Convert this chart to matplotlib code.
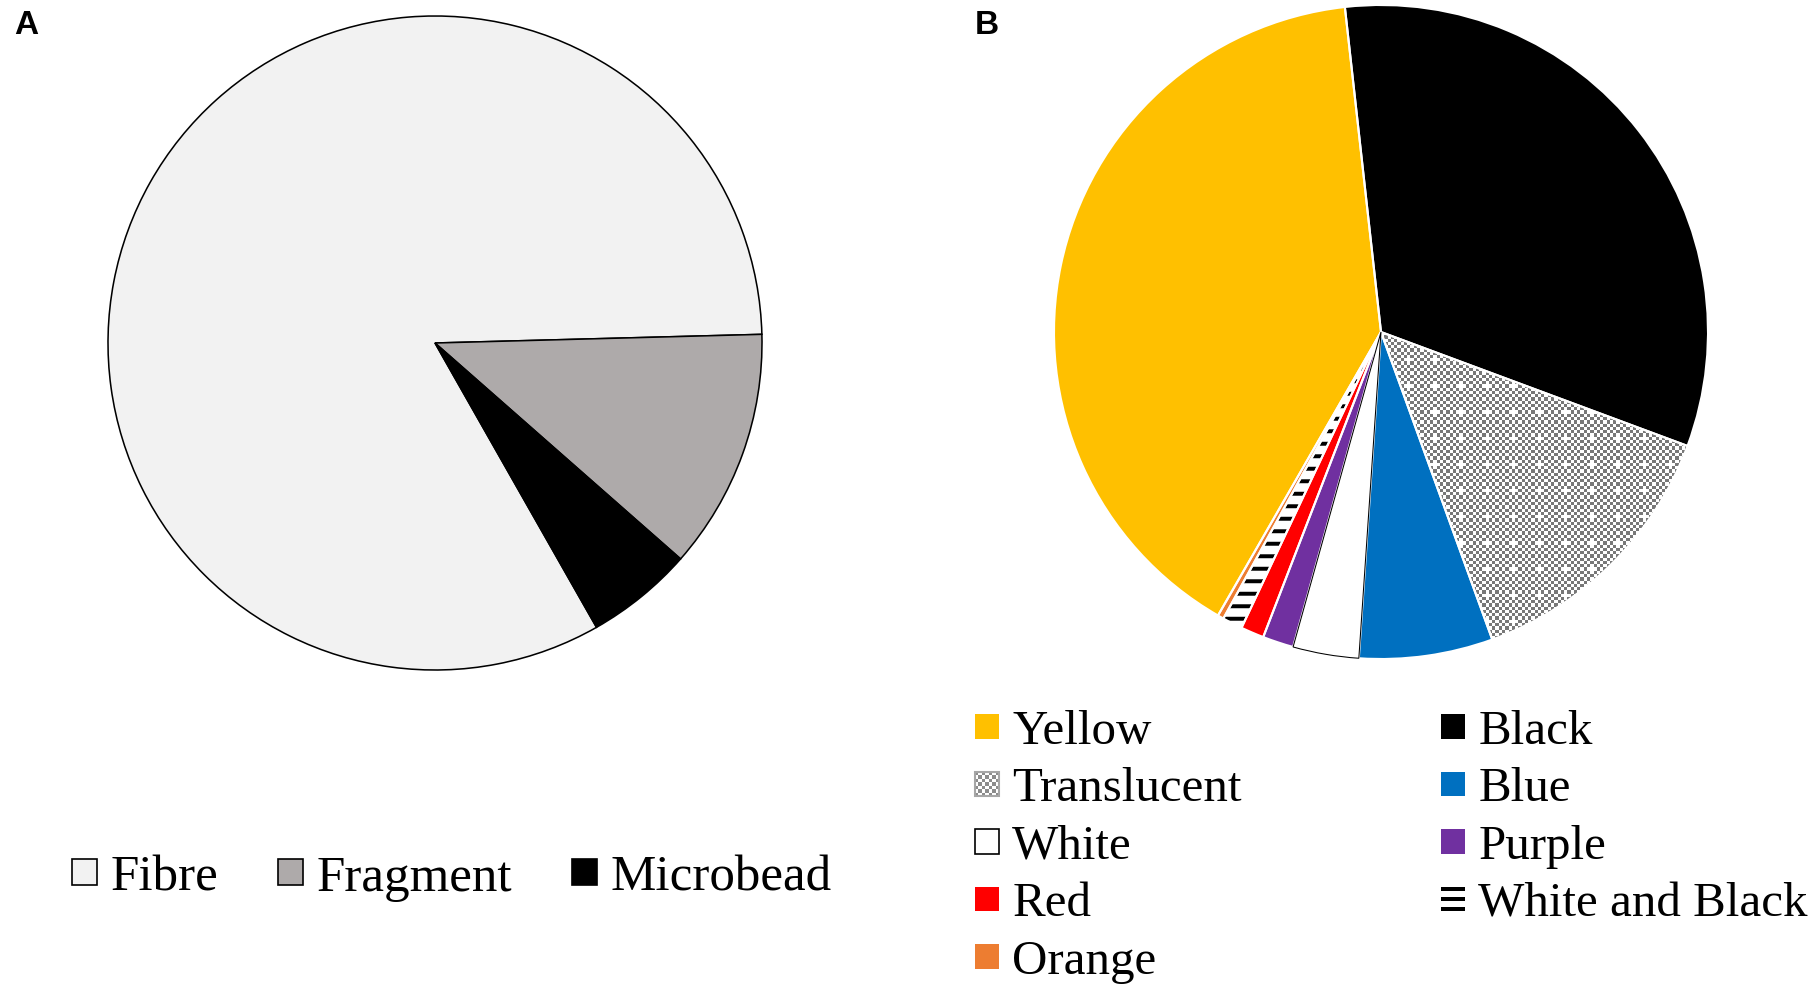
import numpy as np
import matplotlib
matplotlib.use('Agg')
import matplotlib.pyplot as plt
from matplotlib.patches import Patch, Rectangle
from matplotlib.legend_handler import HandlerBase

W, H, DPI = 1813, 989, 150

# ---- data (percent of items) ----
types = ['Fibre', 'Fragment', 'Microbead']
type_pct = [82.8, 11.9, 5.3]
type_colors = ['#F2F2F2', '#AEAAAA', '#000000']

colours = ['Yellow', 'Black', 'Translucent', 'Blue', 'White', 'Purple',
           'Red', 'White and Black', 'Orange']
colour_pct = [39.9, 32.4, 13.8, 6.6, 3.25, 1.53, 1.15, 0.99, 0.30]
colour_fill = ['#FFC000', '#000000', '#FFFFFF', '#0070C0', '#FFFFFF',
               '#7030A0', '#FF0000', '#FFFFFF', '#ED7D31']

plt.rcParams['hatch.linewidth'] = 1.9
serif = ['Liberation Serif', 'DejaVu Serif']

fig = plt.figure(figsize=(W / DPI, H / DPI), dpi=DPI)
R = 327


def pie_axes(cx, cy):
    return fig.add_axes([(cx - R) / W, (H - cy - R) / H, 2 * R / W, 2 * R / H])


# ---- panel A ----
axA = pie_axes(435, 343)
wA, _ = axA.pie(type_pct, colors=type_colors, startangle=-60.4, counterclock=False,
                wedgeprops=dict(edgecolor='black', linewidth=0.75, clip_on=False))
axA.set_xlim(-1, 1)
axA.set_ylim(-1, 1)
axA.set_aspect('equal')
axA.axis('off')

# ---- panel B ----
axB = pie_axes(1381, 332)
wB, _ = axB.pie(colour_pct, colors=colour_fill, startangle=-119.9, counterclock=False,
                wedgeprops=dict(linewidth=0, clip_on=False))
i_wb = colours.index('White and Black')
wB[i_wb].set_edgecolor('black')
wB[i_wb].set_hatch('--')

# checker texture for translucent
n = 200
ii, jj = np.indices((n, n))
tex = np.where((ii + jj) % 2 == 0, 0.47, 1.0)
cross = (((ii % 8) == 4) & ((jj % 8) >= 3) & ((jj % 8) <= 5)) | \
        (((jj % 8) == 4) & ((ii % 8) >= 3) & ((ii % 8) <= 5))
tex[cross] = 1.0
im = axB.imshow(tex, cmap='gray', vmin=0, vmax=1, extent=(-1, 1, -1, 1),
                interpolation='nearest', zorder=1.5)
im.set_clip_path(wB[colours.index('Translucent')])

# slice outlines
wE, _ = axB.pie(colour_pct, colors=['none'] * len(colour_pct), startangle=-119.9,
                counterclock=False, wedgeprops=dict(linewidth=1.0, clip_on=False))
for k, w in enumerate(wE):
    w.set_facecolor('none')
    if colours[k] == 'White':
        w.set_edgecolor('black')
        w.set_linewidth(0.5)
        w.set_zorder(4)
    else:
        w.set_edgecolor('white')
        w.set_zorder(3)
axB.set_xlim(-1, 1)
axB.set_ylim(-1, 1)
axB.set_aspect('equal')
axB.axis('off')


# ---- legend handlers ----
class CheckerHandler(HandlerBase):
    def create_artists(self, legend, orig_handle, xdescent, ydescent, width,
                       height, fontsize, trans):
        arts = []
        m = 7
        cw, ch = width / m, height / m
        for a in range(m):
            for b in range(m):
                col = '#8C8C8C' if (a + b) % 2 == 0 else 'white'
                arts.append(Rectangle((-xdescent + a * cw, -ydescent + b * ch), cw, ch,
                                      facecolor=col, edgecolor='none', transform=trans))
        arts.append(Rectangle((-xdescent, -ydescent), width, height, facecolor='none',
                              edgecolor='#A6A6A6', linewidth=1.0, transform=trans))
        return arts


class BarsHandler(HandlerBase):
    def create_artists(self, legend, orig_handle, xdescent, ydescent, width,
                       height, fontsize, trans):
        arts = []
        t = height * 0.16
        for f in (0.0, 0.42, 0.84):
            arts.append(Rectangle((-xdescent, -ydescent + height - (f * height) - t), width, t,
                                  facecolor='black', edgecolor='none', transform=trans))
        return arts


hA = [Patch(facecolor=c, edgecolor='black', linewidth=0.8) for c in type_colors]
fig.legend(hA, types, loc='upper left', bbox_to_anchor=(72 / W, 1 - 855 / H), ncol=3,
           frameon=False, prop=dict(family=serif, size=24.5), handlelength=0.49,
           handleheight=0.4, handletextpad=0.26, columnspacing=1.18,
           borderpad=0, borderaxespad=0)

checker_h = Patch(facecolor='white')
bars_h = Patch(facecolor='white', label='bars')
hB = []
for name, c in zip(colours, colour_fill):
    if name == 'Translucent':
        hB.append(checker_h)
    elif name == 'White and Black':
        hB.append(bars_h)
    elif name == 'White':
        hB.append(Patch(facecolor='white', edgecolor='black', linewidth=0.8))
    else:
        hB.append(Patch(facecolor=c, edgecolor='none'))

# row-major order as in the reference (matplotlib fills columns first)
order = list(range(0, len(colours), 2)) + list(range(1, len(colours), 2))
fig.legend([hB[k] for k in order], [colours[k] for k in order], loc='upper left',
           bbox_to_anchor=(975 / W, 1 - 710 / H), ncol=2,
           frameon=False, prop=dict(family=serif, size=23.5), handlelength=0.49,
           handleheight=0.39, handletextpad=0.27, columnspacing=4.07, labelspacing=0.275,
           borderpad=0, borderaxespad=0,
           handler_map={checker_h: CheckerHandler(), bars_h: BarsHandler()})

fig.text(14 / W, 1 - 10 / H, 'A', family=['Liberation Sans', 'DejaVu Sans'],
         fontweight='bold', fontsize=16, va='top', ha='left')
fig.text(975 / W, 1 - 10 / H, 'B', family=['Liberation Sans', 'DejaVu Sans'],
         fontweight='bold', fontsize=16, va='top', ha='left')

fig.savefig('out.png', dpi=DPI)
